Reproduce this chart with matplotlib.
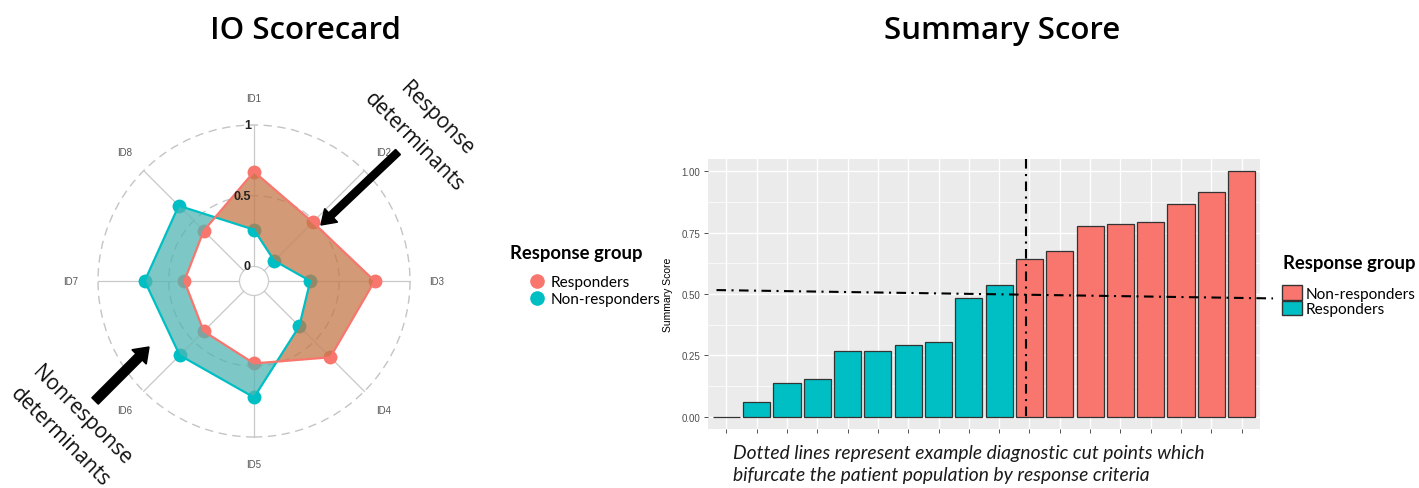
import matplotlib.pyplot as plt
import numpy as np
from matplotlib.patches import Circle, Patch
from matplotlib.lines import Line2D
from matplotlib.font_manager import FontProperties

plt.rcParams['font.family'] = ['Liberation Sans', 'DejaVu Sans']

# ---- radar data (IO Scorecard) ----
ids = ['ID1', 'ID2', 'ID3', 'ID4', 'ID5', 'ID6', 'ID7', 'ID8']
responders = [0.67, 0.485, 0.75, 0.66, 0.48, 0.40, 0.39, 0.40]
non_responders = [0.26, 0.10, 0.295, 0.35, 0.72, 0.64, 0.67, 0.65]
grid_levels = [0, 0.5, 1]
grid_labels = ['0', '0.5', '1']

# ---- bar data (Summary Score) ----
scores = [0.0, 0.059, 0.136, 0.154, 0.267, 0.269, 0.294, 0.304, 0.484, 0.538,
          0.641, 0.675, 0.778, 0.786, 0.793, 0.868, 0.914, 1.0]
groups = ['Responders'] * 10 + ['Non-responders'] * 8
y_ticks = [0, 0.25, 0.5, 0.75, 1.0]
y_ticklabels = ['0.00', '0.25', '0.50', '0.75', '1.00']
cut_x = 9.88
cut_line_x = [-0.32, 18.03]
cut_line_y = [0.516, 0.482]

RED = '#F8766D'
TEAL = '#00BFC4'
palette = {'Responders': TEAL, 'Non-responders': RED}
BROWN_FILL = '#c4784a'
TEAL_FILL = '#52b6b3'

W, H = 1419, 489
fig = plt.figure(figsize=(W / 100, H / 100), dpi=100)


def frac(x0, y0, x1, y1):
    # pixel box (origin top-left) -> figure rect
    return [x0 / W, 1 - y1 / H, (x1 - x0) / W, (y1 - y0) / H]


# ================= radar =================
R = 156.0
cx, cy = 254, 282
ax1 = fig.add_axes(frac(0, 60, 510, 489))
ax1.set_xlim(-cx / R, (510 - cx) / R)
ax1.set_ylim(-(489 - cy) / R, (cy - 60) / R)
ax1.axis('off')

hole = 0.093
n = len(ids)
theta = 2 * np.pi * np.arange(n) / n


def to_xy(vals):
    r = hole + np.asarray(vals) * (1 - hole)
    return r * np.sin(theta), r * np.cos(theta)


# grid
for lev in grid_levels[1:]:
    ax1.add_patch(Circle((0, 0), hole + lev * (1 - hole), fill=False, ec='#c4c4c4',
                         lw=1.0, ls=(0, (6, 4)), zorder=1))
ax1.add_patch(Circle((0, 0), hole, fill=False, ec='#cccccc', lw=0.9, zorder=1))
for t in theta:
    ax1.plot([hole * np.sin(t), np.sin(t)], [hole * np.cos(t), np.cos(t)],
             color='#c8c8c8', lw=0.9, zorder=1)
for t, lab in zip(theta, ids):
    ax1.text(1.173 * np.sin(t), 1.173 * np.cos(t), lab, ha='center', va='center',
             fontsize=7, color='#555555')
for lev, lab in zip(grid_levels, grid_labels):
    ax1.text(-0.02, hole + lev * (1 - hole), lab, ha='right', va='center',
             fontsize=9, fontweight='bold', color='#222222', zorder=7)

rx, ry = to_xy(responders)
tx, ty = to_xy(non_responders)

# points (under the fills)
ax1.plot(tx, ty, 'o', color=TEAL, ms=10, mec='none', zorder=2)
ax1.plot(rx, ry, 'o', color=RED, ms=10, mec='none', zorder=2)

# ribbon between the two polygons, coloured by which group is larger
d = np.array(responders) - np.array(non_responders)
for i in range(n):
    j = (i + 1) % n
    R0, R1 = np.array([rx[i], ry[i]]), np.array([rx[j], ry[j]])
    T0, T1 = np.array([tx[i], ty[i]]), np.array([tx[j], ty[j]])
    if d[i] * d[j] >= 0:
        col = BROWN_FILL if d[i] + d[j] > 0 else TEAL_FILL
        pts = np.array([R0, R1, T1, T0])
        ax1.fill(pts[:, 0], pts[:, 1], color=col, alpha=0.75, lw=0, zorder=3)
    else:
        A = np.column_stack([R1 - R0, -(T1 - T0)])
        s, _ = np.linalg.solve(A, T0 - R0)
        P = R0 + s * (R1 - R0)
        c0 = BROWN_FILL if d[i] > 0 else TEAL_FILL
        c1 = BROWN_FILL if d[j] > 0 else TEAL_FILL
        p0 = np.array([R0, P, T0])
        p1 = np.array([P, R1, T1])
        ax1.fill(p0[:, 0], p0[:, 1], color=c0, alpha=0.75, lw=0, zorder=3)
        ax1.fill(p1[:, 0], p1[:, 1], color=c1, alpha=0.75, lw=0, zorder=3)

ax1.plot(np.append(tx, tx[0]), np.append(ty, ty[0]), color=TEAL, lw=1.6, zorder=4)
ax1.plot(np.append(rx, rx[0]), np.append(ry, ry[0]), color=RED, lw=1.6, zorder=4)

# annotations
ax1.arrow(0.923, 0.827, 0.429 - 0.923, 0.359 - 0.827, width=0.045, head_width=0.12,
          head_length=0.09, length_includes_head=True, fc='black', ec='black', zorder=6)
ax1.arrow(-1.019, -0.769, -0.673 + 1.019, -0.423 + 0.769, width=0.058, head_width=0.13,
          head_length=0.09, length_includes_head=True, fc='black', ec='black', zorder=6)
ax1.text(1.10, 0.97, 'Response\ndeterminants', rotation=-45, rotation_mode='anchor',
         ha='center', va='center', multialignment='center', fontsize=15,
         linespacing=1.7, family='Open Sans', color='#111111', zorder=7)
ax1.text(-1.175, -0.93, 'Nonresponse\ndeterminants', rotation=-45, rotation_mode='anchor',
         ha='center', va='center', multialignment='center', fontsize=15,
         linespacing=1.6, family='Open Sans', color='#111111', zorder=7)

# middle legend
fig.text(510 / W, 1 - 253 / H, 'Response group', ha='left', va='center',
         family='Lato', weight='bold', fontsize=13.3)
fig.legend(handles=[Line2D([], [], marker='o', color=RED, ms=9.5, lw=0),
                    Line2D([], [], marker='o', color=TEAL, ms=9.5, lw=0)],
           labels=['Responders', 'Non-responders'], loc='upper left',
           bbox_to_anchor=(529 / W, 1 - 276 / H), frameon=False,
           prop=FontProperties(family='Lato', size=11.1), handlelength=1.1,
           handletextpad=0.3, labelspacing=0.2, borderpad=0, borderaxespad=0)

# ================= bars =================
ax2 = fig.add_axes(frac(708, 160, 1260, 430))
x = np.arange(len(scores))
ax2.bar(x, scores, width=0.9, color=[palette[g] for g in groups],
        edgecolor='#333333', linewidth=0.9, zorder=3)
ax2.set_xlim(-0.6, len(scores) - 0.4)
ax2.set_ylim(-0.05, 1.05)
ax2.set_facecolor('#EBEBEB')
ax2.set_yticks(y_ticks)
ax2.set_yticklabels(y_ticklabels)
ax2.set_yticks([0.125, 0.375, 0.625, 0.875], minor=True)
ax2.set_xticks(x)
ax2.set_xticklabels([])
ax2.grid(which='major', color='white', lw=1.0, zorder=0)
ax2.grid(which='minor', axis='y', color='white', lw=0.5, zorder=0)
ax2.set_axisbelow(True)
for s in ax2.spines.values():
    s.set_visible(False)
ax2.tick_params(colors='#333333', labelcolor='#4D4D4D', labelsize=7, length=3,
                width=0.6, pad=2.5)
ax2.tick_params(which='minor', length=0)
ax2.set_ylabel('Summary Score', fontsize=7.5)
ax2.yaxis.set_label_coords(-0.0634, 0.5)

dashdot = (0, (4.6, 2.6, 1.0, 2.6))
ax2.plot([cut_x, cut_x], [1.05, -0.01], color='black', lw=1.5, ls=dashdot,
         clip_on=False, zorder=5)
ax2.plot(cut_line_x, cut_line_y, color='black', lw=1.5, ls=dashdot,
         clip_on=False, zorder=5)

# right legend
fig.text(1283 / W, 1 - 263 / H, 'Response group', ha='left', va='center',
         family='Lato', weight='bold', fontsize=13.3)
fig.legend(handles=[Patch(facecolor=RED, edgecolor='#333333'),
                    Patch(facecolor=TEAL, edgecolor='#333333')],
           labels=['Non-responders', 'Responders'],
           prop=FontProperties(family='Lato', size=11.1),
           loc='upper left', bbox_to_anchor=(1282 / W, 1 - 286 / H), frameon=False,
           handlelength=1.3, handleheight=1.1, handletextpad=0.25, labelspacing=0.0,
           borderpad=0, borderaxespad=0)

# ================= titles / caption =================
fig.text(306 / W, 1 - 31 / H, 'IO Scorecard', ha='center', va='center',
         family='Open Sans', weight='semibold', fontsize=22.5)
fig.text(1002 / W, 1 - 31 / H, 'Summary Score', ha='center', va='center',
         family='Open Sans', weight='semibold', fontsize=22.5)
fig.text(733 / W, 1 - 459 / H,
         'Dotted lines represent example diagnostic cut points which',
         ha='left', va='baseline', family='Lato', style='italic', fontsize=13.9,
         color='#1a1a1a')
fig.text(733 / W, 1 - 481 / H,
         'bifurcate the patient population by response criteria',
         ha='left', va='baseline', family='Lato', style='italic', fontsize=13.9,
         color='#1a1a1a')

fig.savefig('out.png', dpi=100)
